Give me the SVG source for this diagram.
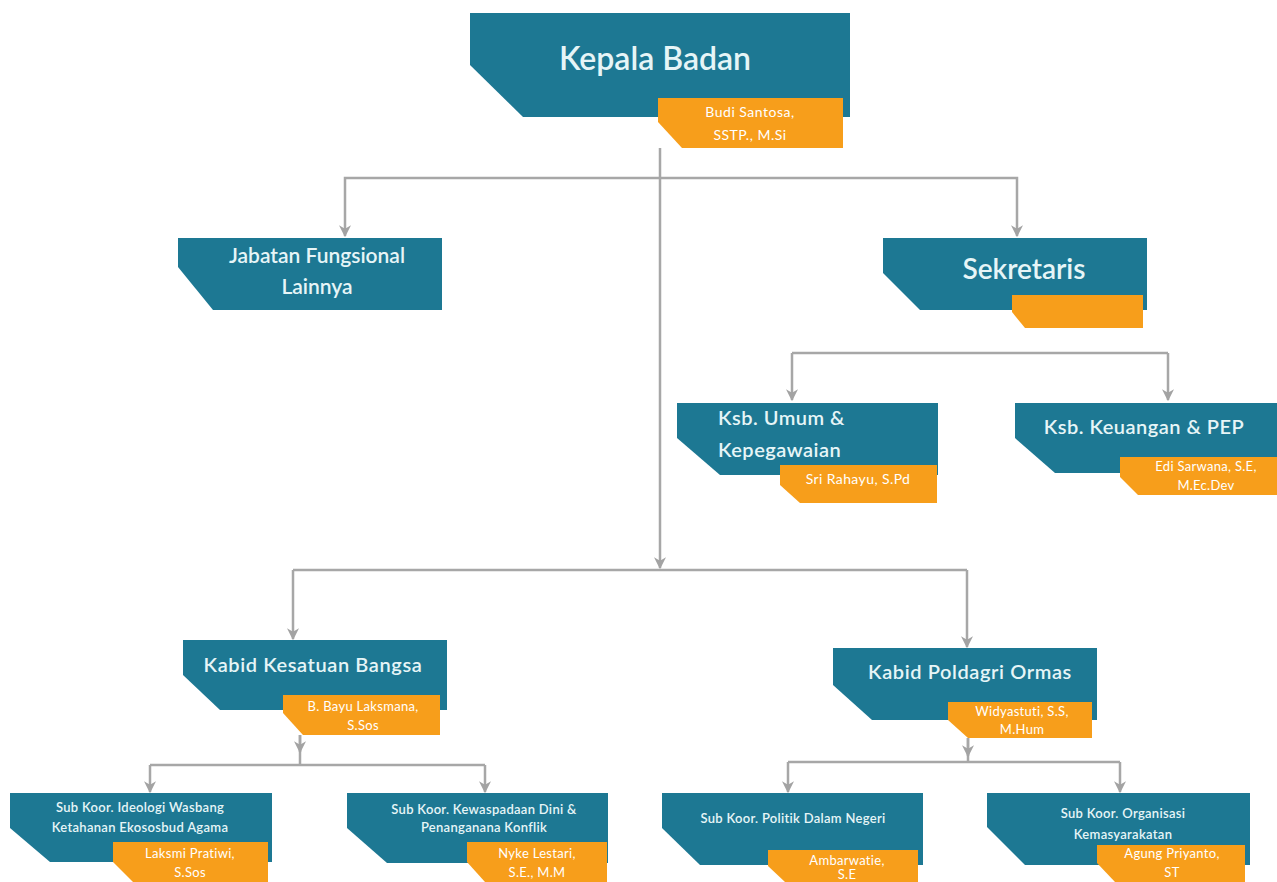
<svg xmlns="http://www.w3.org/2000/svg" width="1277" height="882" viewBox="0 0 1277 882">
<defs>
<marker id="arr" viewBox="0 0 10 10" refX="9" refY="5" markerWidth="12" markerHeight="12" markerUnits="userSpaceOnUse" orient="auto">
<path d="M0,0 L10,5 L0,10 L3,5 z" fill="#a3a3a3"/>
</marker>
<style>
.t{fill:#1d7893}
.o{fill:#f79e1b}
.c{fill:none;stroke:#a7a7a7;stroke-width:2.5}
.a{marker-end:url(#arr)}
text{font-family:Lato,"Open Sans","Liberation Sans",sans-serif;fill:#ffffff;text-anchor:middle}
.w{fill:#e6f5f7;font-weight:600}
.n{font-size:13px;letter-spacing:0.3px}
</style>
</defs>
<rect width="1277" height="882" fill="#ffffff"/>
<g id="connectors">
<path class="c a" d="M660,148 V568"/>
<path class="c a" d="M660,178 H345 V236"/>
<path class="c a" d="M660,178 H1017 V236"/>
<path class="c" d="M792,353 H1168"/>
<path class="c a" d="M792,353 V400"/>
<path class="c a" d="M1168,353 V400"/>
<path class="c" d="M293,570 H967"/>
<path class="c a" d="M293,570 V639"/>
<path class="c a" d="M967,570 V647"/>
<path class="c" d="M300,735 V765"/>
<path class="c a" d="M300,735 V752"/>
<path class="c" d="M150,765 H485"/>
<path class="c a" d="M150,765 V792"/>
<path class="c a" d="M485,765 V792"/>
<path class="c" d="M968,738 V762"/>
<path class="c a" d="M968,738 V756"/>
<path class="c" d="M788,762 H1120"/>
<path class="c a" d="M788,762 V792"/>
<path class="c a" d="M1120,762 V792"/>
</g>
<g id="kepala">
<polygon class="t" points="470,13 850,13 850,117 523,117 470,65"/>
<polygon class="o" points="658,98 843,98 843,148 682,148 658,122"/>
<text class="w" x="655" y="70" font-size="32">Kepala Badan</text>
<text x="750" y="117" font-size="14" letter-spacing="0.5">Budi Santosa,</text>
<text x="750" y="140" font-size="14" letter-spacing="0.5">SSTP., M.Si</text>
</g>
<g id="jabatan">
<polygon class="t" points="178,238 442,238 442,310 213,310 178,267"/>
<text class="w" x="317" y="263" font-size="21">Jabatan Fungsional</text>
<text class="w" x="317" y="294" font-size="21">Lainnya</text>
</g>
<g id="sekretaris">
<polygon class="t" points="883,238 1147,238 1147,310 920,310 883,273"/>
<polygon class="o" points="1012,295 1143,295 1143,328 1025,328 1012,312"/>
<text class="w" x="1024" y="279" font-size="28">Sekretaris</text>
</g>
<g id="ksb-umum">
<polygon class="t" points="677,403 938,403 938,475 720,475 677,438"/>
<polygon class="o" points="780,465 937,465 937,503 800,503 780,485"/>
<text class="w" x="718" y="425" font-size="20" style="text-anchor:start" letter-spacing="0.5">Ksb. Umum &amp;</text>
<text class="w" x="718" y="457" font-size="20" style="text-anchor:start" letter-spacing="0.5">Kepegawaian</text>
<text x="858" y="484" font-size="14" letter-spacing="0.4">Sri Rahayu, S.Pd</text>
</g>
<g id="ksb-keuangan">
<polygon class="t" points="1015,403 1277,403 1277,473 1055,473 1015,438"/>
<polygon class="o" points="1120,457 1277,457 1277,495 1138,495 1120,477"/>
<text class="w" x="1144" y="434" font-size="20" letter-spacing="0.5">Ksb. Keuangan &amp; PEP</text>
<text class="n" x="1206" y="471">Edi Sarwana, S.E,</text>
<text class="n" x="1206" y="490">M.Ec.Dev</text>
</g>
<g id="kabid-kesatuan">
<polygon class="t" points="183,640 447,640 447,710 220,710 183,675"/>
<polygon class="o" points="283,695 440,695 440,735 303,735 283,713"/>
<text class="w" x="313" y="672" font-size="20" letter-spacing="0.6">Kabid Kesatuan Bangsa</text>
<text class="n" x="363" y="711">B. Bayu Laksmana,</text>
<text class="n" x="363" y="730">S.Sos</text>
</g>
<g id="kabid-poldagri">
<polygon class="t" points="833,648 1097,648 1097,720 872,720 833,685"/>
<polygon class="o" points="948,702 1092,702 1092,738 968,738 948,720"/>
<text class="w" x="970" y="679" font-size="20" letter-spacing="0.6">Kabid Poldagri Ormas</text>
<text class="n" x="1022" y="716">Widyastuti, S.S,</text>
<text class="n" x="1022" y="734">M.Hum</text>
</g>
<g id="sub-ideologi">
<polygon class="t" points="10,793 272,793 272,862 50,862 10,828"/>
<polygon class="o" points="113,842 268,842 268,882 133,882 113,862"/>
<text class="w" x="140" y="812" font-size="13" letter-spacing="0.3">Sub Koor. Ideologi Wasbang</text>
<text class="w" x="140" y="832" font-size="13" letter-spacing="0.3">Ketahanan Ekososbud Agama</text>
<text class="n" x="190" y="858">Laksmi Pratiwi,</text>
<text class="n" x="190" y="877">S.Sos</text>
</g>
<g id="sub-kewaspadaan">
<polygon class="t" points="347,793 608,793 608,863 387,863 347,828"/>
<polygon class="o" points="467,842 607,842 607,882 485,882 467,862"/>
<text class="w" x="484" y="814" font-size="13" letter-spacing="0.3">Sub Koor. Kewaspadaan Dini &amp;</text>
<text class="w" x="484" y="832" font-size="13" letter-spacing="0.3">Penanganana Konflik</text>
<text class="n" x="537" y="858">Nyke Lestari,</text>
<text class="n" x="537" y="877">S.E., M.M</text>
</g>
<g id="sub-politik">
<polygon class="t" points="662,793 923,793 923,865 700,865 662,828"/>
<polygon class="o" points="768,850 918,850 918,882 785,882 768,866"/>
<text class="w" x="793" y="823" font-size="13" letter-spacing="0.3">Sub Koor. Politik Dalam Negeri</text>
<text class="n" x="847" y="865">Ambarwatie,</text>
<text class="n" x="847" y="879">S.E</text>
</g>
<g id="sub-organisasi">
<polygon class="t" points="987,793 1250,793 1250,865 1025,865 987,827"/>
<polygon class="o" points="1097,845 1245,845 1245,882 1115,882 1097,863"/>
<text class="w" x="1123" y="818" font-size="13" letter-spacing="0.3">Sub Koor. Organisasi</text>
<text class="w" x="1123" y="839" font-size="13" letter-spacing="0.3">Kemasyarakatan</text>
<text class="n" x="1172" y="858">Agung Priyanto,</text>
<text class="n" x="1172" y="877">ST</text>
</g>
</svg>
